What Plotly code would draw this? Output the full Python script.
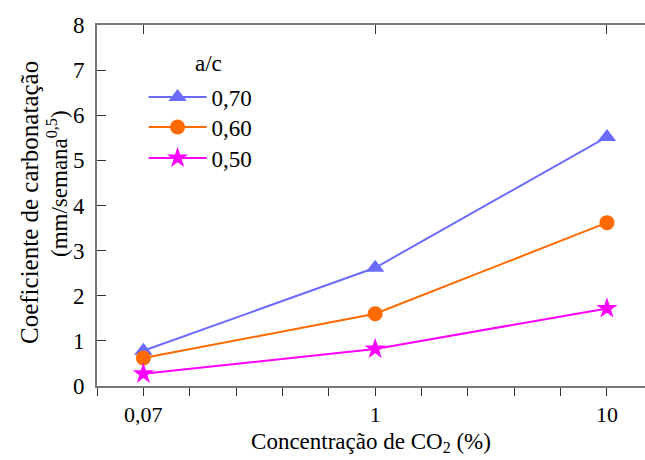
import plotly.graph_objects as go

categories = ["0,07", "1", "10"]
series_names = ["0,70", "0,60", "0,50"]
vals_070 = [0.78, 2.62, 5.52]
vals_060 = [0.62, 1.60, 3.62]
vals_050 = [0.27, 0.82, 1.72]
y_ticks = [0, 1, 2, 3, 4, 5, 6, 7, 8]
legend_title = "a/c"
y_title_1 = "Coeficiente de carbonatação"
y_title_2 = "(mm/semana<sup>0,5</sup>)"
x_title = "Concentração de CO<sub>2</sub> (%)"

xpos = list(range(len(categories)))
FONT = "Liberation Serif, Times New Roman, serif"

fig = go.Figure()
styles = [
    (vals_070, "#6B6BFF", "triangle-up", 16, "legend"),
    (vals_060, "#FF6A00", "circle", 15, "legend2"),
    (vals_050, "#FF00FF", "star", 16, "legend3"),
]
for name, (vals, col, sym, sz, leg) in zip(series_names, styles):
    fig.add_trace(go.Scatter(
        x=xpos, y=vals, name=name, mode="lines+markers", legend=leg,
        line=dict(color=col, width=2),
        marker=dict(symbol=sym, size=sz, color=col, line=dict(width=0)),
    ))

fig.add_trace(go.Scatter(x=xpos, y=[None]*3, xaxis="x2", showlegend=False, hoverinfo="skip"))

minor_ticks = [round(-0.2 + 0.2 * i, 2) for i in range(12)]


def leg(ypx):
    return dict(
        x=0.085, y=(386 - ypx) / 361, xanchor="left", yanchor="middle",
        bgcolor="rgba(0,0,0,0)",
        font=dict(size=23, family=FONT), itemwidth=58,
    )


fig.update_layout(
    width=645, height=460,
    margin=dict(l=97, r=0, t=25, b=74),
    paper_bgcolor="white", plot_bgcolor="white",
    font=dict(family=FONT, size=22, color="black"),
    showlegend=True,
    legend=leg(97), legend2=leg(127), legend3=leg(158),
    xaxis=dict(
        range=[-0.2, 2.164], tickmode="array",
        tickvals=minor_ticks,
        ticktext=["", categories[0], "", "", "", "", categories[1], "", "", "", "", categories[2]],
        ticks="outside", ticklen=8, tickwidth=1, tickcolor="#333",
        showline=True, linecolor="#777", linewidth=2, mirror=True,
        showgrid=False, zeroline=False,
        tickfont=dict(size=22, family=FONT),
        title=dict(text=x_title, font=dict(size=23, family=FONT), standoff=6),
    ),
    xaxis2=dict(
        range=[-0.2, 2.164], overlaying="x", side="top",
        tickmode="array", tickvals=xpos, ticktext=["", "", ""],
        ticks="inside", ticklen=9, tickwidth=1, tickcolor="#333",
        showline=False, showgrid=False, zeroline=False,
    ),
    yaxis=dict(
        range=[0, 8], tickmode="array", tickvals=y_ticks,
        ticks="inside", ticklen=9, tickwidth=1, tickcolor="#333",
        showline=True, linecolor="#777", linewidth=2,
        showgrid=False, zeroline=False,
        tickfont=dict(size=23, family=FONT), ticklabelstandoff=6,
    ),
    annotations=[
        dict(text=legend_title, xref="paper", yref="paper", x=(208 - 97) / 548, y=(386 - 63) / 361,
             xanchor="center", yanchor="middle", showarrow=False, font=dict(size=23, family=FONT)),
        dict(text=y_title_1, xref="paper", yref="paper", x=(30 - 97) / 548, y=(386 - 203) / 361,
             xanchor="center", yanchor="middle", textangle=-90, showarrow=False,
             font=dict(size=25, family=FONT)),
        dict(text=y_title_2, xref="paper", yref="paper", x=(57 - 97) / 548, y=(386 - 184) / 361,
             xanchor="center", yanchor="middle", textangle=-90, showarrow=False,
             font=dict(size=23, family=FONT)),
    ],
)

fig.write_html("out.html")
